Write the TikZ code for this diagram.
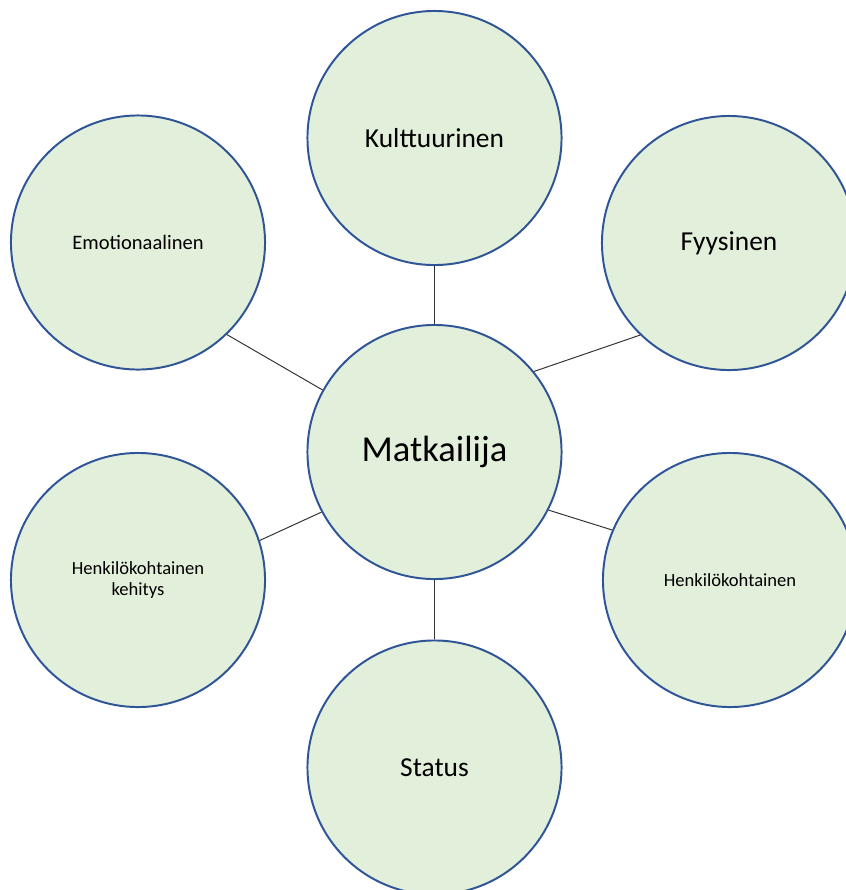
\documentclass[tikz,border=0pt]{standalone}
\usepackage{fontspec}
\setmainfont{Carlito}
\usepackage{xcolor}
\usepackage{tikz}
\definecolor{bubbleFill}{HTML}{E2EFDA}
\definecolor{bubbleLine}{HTML}{2F5597}
\newcommand{\bigtxt}{\fontsize{26}{31}\selectfont}
\newcommand{\midtxt}{\fontsize{19.5}{23}\selectfont}
\newcommand{\emotxt}{\fontsize{14.6}{17}\selectfont}
\newcommand{\smalltxt}{\fontsize{13.2}{15}\selectfont}

\begin{document}
\begin{tikzpicture}[x=0.025cm,y=-0.025cm,
  bubble/.style={circle,draw=bubbleLine,fill=bubbleFill,line width=1.4pt,
                 minimum size=6.35cm,inner sep=0pt,align=center},
  link/.style={draw=black!80,line width=0.7pt}]
\useasboundingbox (0,0) rectangle (846,890);
\node[bubble,font=\bigtxt] (m) at (434.5,452) {Matkailija};
\node[bubble,font=\midtxt] (k) at (434.5,138) {Kulttuurinen};
\node[bubble,font=\midtxt] (f) at (729,243) {Fyysinen};
\node[bubble,font=\emotxt] (e) at (138,242.5) {Emotionaalinen};
\node[bubble,font=\smalltxt] (hk) at (138,580) {Henkilökohtainen\\kehitys};
\node[bubble,font=\smalltxt] (h) at (730,580) {Henkilökohtainen};
\node[bubble,font=\midtxt] (s) at (434.5,767.5) {Status};

\draw[link] (m.north) -- (k.south);
\draw[link] (m.39) -- (f.226);
\draw[link] (m.151) -- (e.314);
\draw[link] (m.208) -- (hk.18);
\draw[link] (m.333) -- (h.157);
\draw[link] (m.south) -- (s.north);
\end{tikzpicture}
\end{document}
